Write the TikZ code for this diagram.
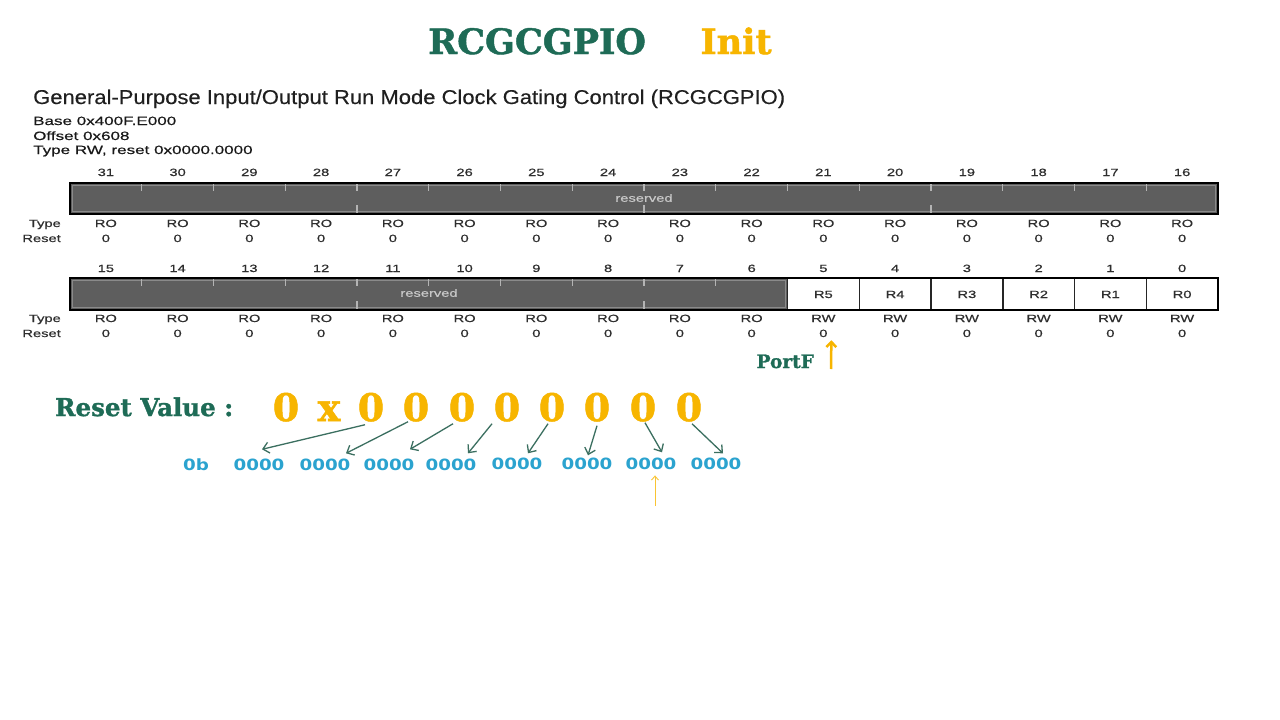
\documentclass[tikz,border=0pt]{standalone}
\usepackage{fontspec}
\setmainfont{Liberation Sans}
\newfontfamily\heavyslab[BoldFeatures={FakeBold=1.3}]{DejaVu Serif}
\newfontfamily\grpfont[FakeStretch=1.18]{DejaVu Sans}
\newfontfamily\regfont[FakeStretch=1.4,FakeBold=0.5]{Liberation Sans}
\newfontfamily\infofont[FakeStretch=1.42,FakeBold=0.5]{Liberation Sans}
\newfontfamily\subfont[FakeStretch=1.1,FakeBold=0.3]{Liberation Sans}
\usetikzlibrary{arrows.meta,calc}
\definecolor{tgreen}{HTML}{1E6B56}
\definecolor{tyellow}{HTML}{F7B500}
\definecolor{tblue}{HTML}{2BA3CF}
\definecolor{agreen}{HTML}{3B6F60}
\definecolor{regdark}{HTML}{5E5E5E}
\definecolor{reginner}{HTML}{8A8A8A}
\definecolor{ticklight}{HTML}{B4B4B4}
\definecolor{txtgray}{HTML}{2E2E2E}
\begin{document}
\begin{tikzpicture}[x=1pt,y=-1pt,
  titlegreen/.style={anchor=base,inner sep=0,text=tgreen,font=\heavyslab\bfseries\fontsize{35}{35}\selectfont},
  titleyellow/.style={anchor=base,inner sep=0,text=tyellow,font=\heavyslab\bfseries\fontsize{35}{35}\selectfont},
  bitnum/.style={anchor=base,inner sep=0,text=txtgray,font=\regfont\fontsize{10.5}{12}\selectfont},
  rowlab/.style={anchor=base east,inner sep=0,text=txtgray,font=\regfont\fontsize{10.5}{12}\selectfont},
  cellval/.style={anchor=base,inner sep=0,text=txtgray,font=\regfont\fontsize{10.5}{12}\selectfont},
  reservedtxt/.style={inner sep=0,text=black!22,font=\regfont\fontsize{10.5}{10}\selectfont},
  infotxt/.style={anchor=base west,inner sep=0,text=black!90,font=\infofont\fontsize{12}{14}\selectfont},
  bigdigit/.style={anchor=base,inner sep=0,text=tyellow,font=\heavyslab\bfseries\fontsize{38}{38}\selectfont},
  grp/.style={anchor=base,inner sep=0,text=tblue,font=\grpfont\bfseries\fontsize{15.5}{16}\selectfont},
  splitarrow/.style={draw=agreen,line width=1.3pt,-{Straight Barb[length=6pt,width=11pt]}},
  tickmark/.style={draw=ticklight,line width=1.2pt},
  regoutline/.style={draw=black,line width=2pt},
]
\useasboundingbox (0,0) rectangle (1280,720);
\fill[white] (0,0) rectangle (1280,720);

% Title
\node[titlegreen] (title) at (537,54) {RCGCGPIO};
\node[titleyellow] (init) at (736,54) {Init};

% Register description
\node[anchor=base west,inner sep=0,text=black!88,font=\subfont\fontsize{20}{22}\selectfont] (sub) at (33,104)
  {General-Purpose Input/Output Run Mode Clock Gating Control (RCGCGPIO)};
\node[infotxt] (base) at (33,125) {Base 0x400F.E000};
\node[infotxt] (offs) at (33,140) {Offset 0x608};
\node[infotxt] (typ) at (33,154) {Type RW, reset 0x0000.0000};

% ---------- Row 1 (bits 31..16) ----------
\fill[regdark] (70,183) rectangle (1218,214);
\draw[reginner,line width=1pt] (72.5,185.5) rectangle (1215.5,211.5);
\foreach \i in {1,...,15} {\draw[tickmark] ({70+\i*71.75},184) -- ({70+\i*71.75},191);}
\foreach \i in {4,8,12} {\draw[tickmark] ({70+\i*71.75},205) -- ({70+\i*71.75},213);}
\draw[regoutline] (70,183) rectangle (1218,214);
\node[reservedtxt] (res1) at (644,198) {reserved};
\foreach \i in {0,...,15} {
  \pgfmathtruncatemacro{\b}{31-\i}
  \node[bitnum] (n\b) at ({70+(\i+0.5)*71.75},176) {\b};
  \node[cellval] (ty\b) at ({70+(\i+0.5)*71.75},227) {RO};
  \node[cellval] (rs\b) at ({70+(\i+0.5)*71.75},242) {0};
}
\node[rowlab] (typelab1) at (61,227) {Type};
\node[rowlab] (resetlab1) at (61,242) {Reset};

% ---------- Row 2 (bits 15..0) ----------
\fill[regdark] (70,278) rectangle (787.5,310);
\draw[reginner,line width=1pt] (72.5,280.5) rectangle (785,307.5);
\foreach \i in {1,...,9} {\draw[tickmark] ({70+\i*71.75},279) -- ({70+\i*71.75},286);}
\foreach \i in {4,8} {\draw[tickmark] ({70+\i*71.75},301) -- ({70+\i*71.75},309);}
\foreach \i in {10,...,15} {
  \pgfmathtruncatemacro{\b}{15-\i}
  \draw[draw=black!85,line width=1.5pt,fill=white] ({70+\i*71.75},278) rectangle ({70+(\i+1)*71.75},310);
  \node[cellval] (cell\b) at ({70+(\i+0.5)*71.75},298) {R\b};
}
\draw[regoutline] (70,278) rectangle (1218,310);
\node[reservedtxt] (res2) at (429,293) {reserved};
\foreach \i in {0,...,15} {
  \pgfmathtruncatemacro{\b}{15-\i}
  \node[bitnum] (n\b) at ({70+(\i+0.5)*71.75},272) {\b};
  \ifnum\b>5
    \node[cellval] (ty\b) at ({70+(\i+0.5)*71.75},322) {RO};
  \else
    \node[cellval] (ty\b) at ({70+(\i+0.5)*71.75},322) {RW};
  \fi
  \node[cellval] (rs\b) at ({70+(\i+0.5)*71.75},337) {0};
}
\node[rowlab] (typelab2) at (61,322) {Type};
\node[rowlab] (resetlab2) at (61,337) {Reset};

% PortF marker
\node[anchor=base east,inner sep=0,text=tgreen,font=\heavyslab\bfseries\fontsize{18.5}{18}\selectfont] (portf) at (814,368) {PortF};
\coordinate (pfstart) at (831,369);
\draw[draw=tyellow,line width=2.5pt,-{Straight Barb[length=5pt,width=10pt]}] (pfstart) -- ($(rs5.south)+(8,3)$);

% Reset value
\node[anchor=base west,inner sep=0,text=tgreen,font=\heavyslab\bfseries\fontsize{24.5}{25}\selectfont] (rv) at (55,416) {Reset Value :};
\node[bigdigit] (hx0) at (286,421) {0};
\node[bigdigit] (hxx) at (329,421) {x};
\node[bigdigit] (d1) at (371,421) {0};
\node[bigdigit] (d2) at (416,421) {0};
\node[bigdigit] (d3) at (462,421) {0};
\node[bigdigit] (d4) at (507,421) {0};
\node[bigdigit] (d5) at (552,421) {0};
\node[bigdigit] (d6) at (597,421) {0};
\node[bigdigit] (d7) at (643,421) {0};
\node[bigdigit] (d8) at (689,421) {0};

% Binary groups
\node[grp] (g0) at (196,470) {0b};
\node[grp] (g1) at (259,470) {0000};
\node[grp] (g2) at (325,470) {0000};
\node[grp] (g3) at (389,470) {0000};
\node[grp] (g4) at (451,470) {0000};
\node[grp] (g5) at (517,469) {0000};
\node[grp] (g6) at (587,469) {0000};
\node[grp] (g7) at (651,469) {0000};
\node[grp] (g8) at (716,469) {0000};

% Split arrows
\draw[splitarrow] ($(d1.south)+(-6,3)$) -- ($(g1.north)+(3,-9)$);
\draw[splitarrow] ($(d2.south)+(-8,0)$) -- ($(g2.north)+(21,-5)$);
\draw[splitarrow] ($(d3.south)+(-9,2)$) -- ($(g3.north)+(21,-9)$);
\draw[splitarrow] ($(d4.south)+(-15,2)$) -- ($(g4.north)+(17,-5)$);
\draw[splitarrow] ($(d5.south)+(-4,2)$) -- ($(g5.north)+(11,-4)$);
\draw[splitarrow] ($(d6.south)+(0,4)$) -- ($(g6.north)+(1,-2)$);
\draw[splitarrow] ($(d7.south)+(2,1)$) -- ($(g7.north)+(11,-5)$);
\draw[splitarrow] ($(d8.south)+(3,2)$) -- ($(g8.north)+(7,-4)$);

% Small pointer under the seventh group
\coordinate (ptrstart) at (655,506);
\draw[draw=tyellow!80,line width=0.9pt,-{Straight Barb[length=4pt,width=7pt]}] (ptrstart) -- ($(g7.south)+(4,6)$);
\end{tikzpicture}
\end{document}
